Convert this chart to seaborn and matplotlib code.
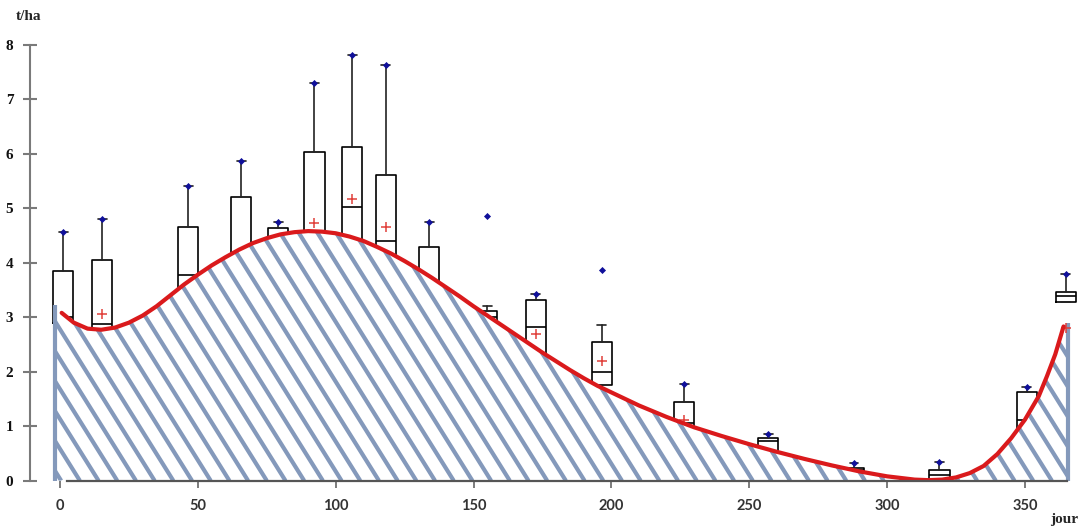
import numpy as np
import pandas as pd
import matplotlib
matplotlib.use("Agg")
import matplotlib.pyplot as plt
from matplotlib.collections import LineCollection
import seaborn as sns

# ---------------- data ----------------
box_days = [1.2, 15.3, 46.5, 65.7, 79.2, 92.3, 106.0, 118.2, 133.9, 155.0,
            172.6, 196.5, 226.4, 256.9, 288.0, 319.0, 350.6, 364.8]
box_whislo = [2.60, 2.50, 3.00, 3.60, 4.00, 3.80, 3.90, 3.70, 3.20, 2.70,
              2.00, 1.50, 0.80, 0.40, 0.10, 0.00, 0.70, 3.28]
box_q1 = [2.90, 2.78, 3.40, 3.90, 4.30, 4.10, 4.25, 4.00, 3.50, 2.90,
          2.30, 1.76, 0.95, 0.50, 0.15, 0.04, 0.90, 3.28]
box_med = [3.00, 2.88, 3.78, 4.05, 4.45, 4.35, 5.02, 4.40, 3.65, 3.00,
           2.82, 2.00, 1.05, 0.72, 0.20, 0.11, 1.11, 3.38]
box_q3 = [3.84, 4.05, 4.65, 5.20, 4.64, 6.03, 6.13, 5.61, 4.29, 3.11,
          3.32, 2.55, 1.45, 0.78, 0.235, 0.19, 1.62, 3.47]
box_whishi = [4.57, 4.81, 5.41, 5.87, 4.74, 7.30, 7.82, 7.63, 4.74, 3.20,
              3.42, 2.85, 1.77, 0.85, 0.33, 0.35, 1.72, 3.80]
box_max = [4.57, 4.81, 5.41, 5.87, 4.74, 7.30, 7.82, 7.63, 4.74, 4.86,
           3.42, 3.86, 1.77, 0.85, 0.33, 0.35, 1.72, 3.80]
box_mean = [np.nan, 3.06, np.nan, np.nan, np.nan, 4.72, 5.17, 4.66, np.nan, np.nan,
            2.70, 2.19, 1.12, np.nan, np.nan, np.nan, np.nan, 2.80]

fit_days = [-1.8, 0.6, 5, 10, 15, 20, 25, 30, 35, 40, 45, 50, 55, 60, 65, 70, 75,
            80, 85, 90, 95, 100, 105, 110, 115, 120, 125, 130, 135, 140, 145,
            150, 155, 160, 165, 170, 175, 180, 185, 190, 195, 200, 210, 220,
            230, 240, 250, 260, 270, 280, 290, 300, 310, 315, 320, 325, 330,
            335, 340, 345, 350, 355, 358, 361, 364, 365.7]
fit_vals = [3.22, 3.08, 2.90, 2.79, 2.77, 2.81, 2.90, 3.03, 3.20, 3.40, 3.60,
            3.78, 3.95, 4.10, 4.24, 4.36, 4.45, 4.52, 4.56, 4.58, 4.57, 4.54,
            4.48, 4.40, 4.29, 4.17, 4.03, 3.88, 3.72, 3.55, 3.38, 3.20, 3.03,
            2.86, 2.69, 2.52, 2.35, 2.19, 2.03, 1.88, 1.74, 1.62, 1.38, 1.17,
            0.98, 0.82, 0.67, 0.53, 0.40, 0.28, 0.17, 0.08, 0.02, 0.01, 0.02,
            0.06, 0.14, 0.27, 0.49, 0.78, 1.12, 1.55, 1.92, 2.32, 2.83, 2.89]

x_ticks = [0, 50, 100, 150, 200, 250, 300, 350]
y_ticks = [0, 1, 2, 3, 4, 5, 6, 7, 8]

# ---------------- style ----------------
sns.set_theme(style="white")
plt.rcParams["font.family"] = ["DejaVu Sans"]

HATCH = "#8499bb"
RED = "#da1a1c"
NAVY = "#10109a"

fig = plt.figure(figsize=(10.82, 5.30), dpi=100)
ax = fig.add_axes([30 / 1082, 49.3 / 530, 1050 / 1082, 436 / 530])
ax.set_facecolor("white")

# boxes
stats = []
for i in range(len(box_days)):
    stats.append(dict(whislo=box_whislo[i], q1=box_q1[i], med=box_med[i],
                      q3=box_q3[i], whishi=box_whishi[i], fliers=[]))
ax.bxp(stats, positions=box_days, widths=7.3, capwidths=3.2, showfliers=False,
       boxprops=dict(color="black", lw=1.2),
       whiskerprops=dict(color="#222222", lw=1.2),
       capprops=dict(color="#222222", lw=1.2),
       medianprops=dict(color="black", lw=1.2),
       manage_ticks=False, zorder=2)

# maxima (blue points)
df_max = pd.DataFrame({"day": box_days, "val": box_max})
sns.scatterplot(data=df_max, x="day", y="val", marker="D", s=13, color=NAVY,
                linewidth=0, ax=ax, zorder=2.5, legend=False)

# hatched area under the fitted curve
poly = ax.fill_between(fit_days, fit_vals, 0, facecolor="white",
                       edgecolor="none", zorder=3)
slope = (1.6 * 2.757) / 54.5  # stripe slope in data units (value per day)
span = 8.0 / slope
offsets = np.arange(0.42 - 6.78, 480, 6.78)
segs = [[(c - span, 8.0), (c, 0.0)] for c in offsets]
lc = LineCollection(segs, colors=HATCH, linewidths=3.0, zorder=4,
                    capstyle="butt")
ax.add_collection(lc)
lc.set_clip_path(poly.get_paths()[0], ax.transData)
ax.vlines([fit_days[0], fit_days[-1]], 0, [fit_vals[0], fit_vals[-1]],
          colors=HATCH, lw=3.0, zorder=4)

# means (red +)
df_mean = pd.DataFrame({"day": box_days, "val": box_mean}).dropna()
sns.scatterplot(data=df_mean, x="day", y="val", marker="+", s=45,
                color="#e0403a", linewidth=1.1, ax=ax, zorder=5, legend=False)

# fitted curve
df_fit = pd.DataFrame({"day": fit_days[1:-1], "val": fit_vals[1:-1]})
sns.lineplot(data=df_fit, x="day", y="val", color=RED, lw=3.0, ax=ax,
             zorder=6, sort=False)

# ---------------- axes ----------------
ax.set_xlim((30 - 60) / 2.757, (1080 - 60) / 2.757)
ax.set_ylim(0, 8)
ax.set_xlabel("")
ax.set_ylabel("")
for s in ["top", "right"]:
    ax.spines[s].set_visible(False)
ax.spines["left"].set_bounds(0, 8)
ax.spines["left"].set_color("#7a7a7a")
ax.spines["left"].set_linewidth(1.5)
ax.spines["bottom"].set_bounds(2.5, 365.2)
ax.spines["bottom"].set_color("#555555")
ax.spines["bottom"].set_linewidth(1.6)
ax.spines["bottom"].set_zorder(7)

ax.set_yticks(y_ticks)
ax.set_yticklabels([str(v) for v in y_ticks], family="Liberation Serif",
                   fontweight="bold", fontsize=11, color="#111111")
ax.tick_params(axis="y", left=True, direction="inout", length=10, width=1.5,
               color="#7a7a7a", pad=7)
ax.set_xticks(x_ticks)
ax.set_xticklabels([str(v) for v in x_ticks], family="Lato",
                   fontweight="bold", fontsize=10.5, color="#333333")
ax.tick_params(axis="x", bottom=True, direction="out", length=5, width=1.2,
               color="#666666", pad=8)

fig.text(29 / 1082, 1 - 16 / 530, "t/ha", family="Liberation Serif",
         fontweight="bold", fontsize=11, ha="center", va="center")
fig.text(1064 / 1082, 1 - 519 / 530, "jour", family="Liberation Serif",
         fontweight="bold", fontsize=11, ha="center", va="center")

fig.savefig("out.png", dpi=100, facecolor="white")
